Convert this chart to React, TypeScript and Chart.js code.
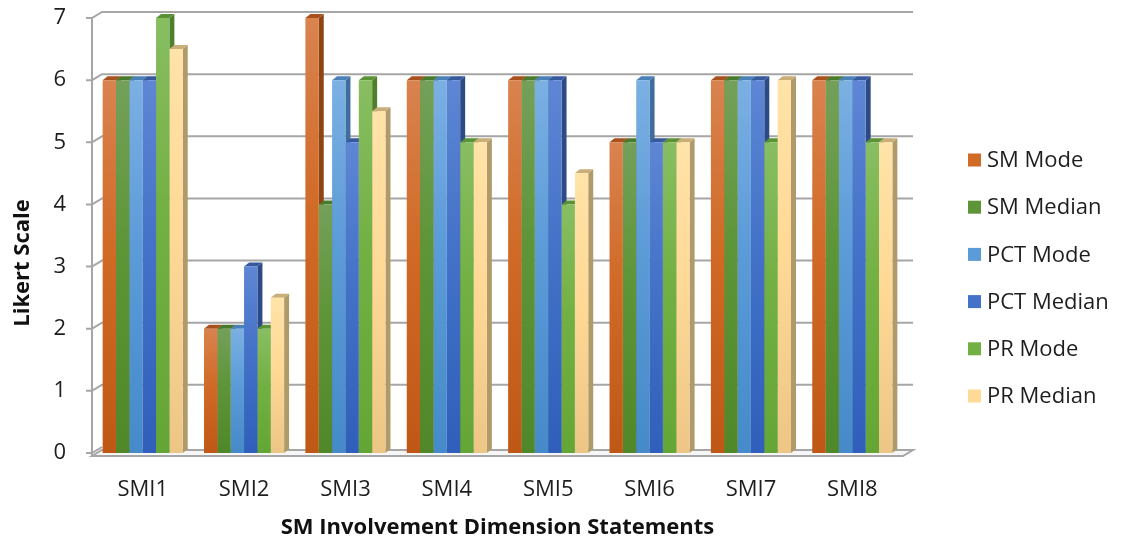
import React, { useEffect, useRef } from "react";
import { Chart, registerables } from "chart.js";

Chart.register(...registerables);

const categories = ["SMI1", "SMI2", "SMI3", "SMI4", "SMI5", "SMI6", "SMI7", "SMI8"];
const seriesNames = ["SM Mode", "SM Median", "PCT Mode", "PCT Median", "PR Mode", "PR Median"];
const smMode = [6, 2, 7, 6, 6, 5, 6, 6];
const smMedian = [6, 2, 4, 6, 6, 5, 6, 6];
const pctMode = [6, 2, 6, 6, 6, 6, 6, 6];
const pctMedian = [6, 3, 5, 6, 6, 5, 6, 6];
const prMode = [7, 2, 6, 5, 4, 5, 5, 5];
const prMedian = [6.5, 2.5, 5.5, 5, 4.5, 5, 6, 5];
const yTickValues = [0, 1, 2, 3, 4, 5, 6, 7];
const xTitle = "SM Involvement Dimension Statements";
const yTitle = "Likert Scale";

const seriesValues = [smMode, smMedian, pctMode, pctMedian, prMode, prMedian];

const palette = [
  { top: "#D9834F", mid: "#D06A26", bottom: "#C05815", side: "#8F4513", cap: "#A8511C" },
  { top: "#74A05A", mid: "#5E9538", bottom: "#4F8729", side: "#3A6322", cap: "#4A7A2C" },
  { top: "#7BB0E3", mid: "#5B9BD8", bottom: "#468AC9", side: "#3F6E9E", cap: "#4A80B8" },
  { top: "#5E86D4", mid: "#4472C8", bottom: "#2F5FBA", side: "#2C4A86", cap: "#36599E" },
  { top: "#88BE62", mid: "#72B043", bottom: "#64A635", side: "#4F7F2C", cap: "#5A9235" },
  { top: "#FFE3A8", mid: "#FFD996", bottom: "#EDC686", side: "#B09A6A", cap: "#C9AE78" },
];

const FONT = "'Open Sans', 'DejaVu Sans', sans-serif";
const FONT_SIZE = 22;
const WALL_DX = 10;
const WALL_DY = 6;
const BAR_DX = 5;
const BAR_DY = 4;

function barFill(i: number) {
  return (ctx: any) => {
    const chart = ctx.chart;
    const c = palette[i];
    const yScale = chart.scales && chart.scales.y;
    if (!chart.chartArea || !yScale || ctx.type !== "data") return c.mid;
    const top = yScale.getPixelForValue(ctx.raw);
    const bottom = yScale.getPixelForValue(0);
    if (!isFinite(top) || !isFinite(bottom) || top === bottom) return c.mid;
    const g = chart.ctx.createLinearGradient(0, top, 0, bottom);
    g.addColorStop(0, c.top);
    g.addColorStop(0.45, c.mid);
    g.addColorStop(1, c.bottom);
    return g;
  };
}

const threeDPlugin = {
  id: "threeD",
  beforeDatasetsDraw(chart: any) {
    const ctx = chart.ctx;
    const { left, right } = chart.chartArea;
    const y = chart.scales.y;
    const base = y.getPixelForValue(0);
    ctx.save();
    ctx.strokeStyle = "#A6A6A6";
    ctx.lineWidth = 2;
    yTickValues.forEach((v) => {
      const py = y.getPixelForValue(v);
      ctx.beginPath();
      ctx.moveTo(left - 6, py);
      ctx.lineTo(left, py);
      ctx.lineTo(left + WALL_DX, py - WALL_DY);
      if (v !== 0) ctx.lineTo(right + WALL_DX, py - WALL_DY);
      ctx.stroke();
    });
    ctx.beginPath();
    ctx.moveTo(left, y.getPixelForValue(7));
    ctx.lineTo(left, base + 3);
    ctx.stroke();
    ctx.fillStyle = "#F6F6F6";
    ctx.beginPath();
    ctx.moveTo(left, base + 3);
    ctx.lineTo(right, base + 3);
    ctx.lineTo(right + WALL_DX, base + 3 - WALL_DY);
    ctx.lineTo(left + WALL_DX, base + 3 - WALL_DY);
    ctx.closePath();
    ctx.fill();
    ctx.stroke();

    const metas = seriesNames.map((_, i) => chart.getDatasetMeta(i));
    metas.forEach((meta: any, i: number) => {
      meta.data.forEach((el: any) => {
        const p = el.getProps(["x", "y", "base", "width"], true);
        const xr = p.x + p.width / 2;
        ctx.fillStyle = palette[i].side;
        ctx.beginPath();
        ctx.moveTo(xr, p.y);
        ctx.lineTo(xr + BAR_DX, p.y - BAR_DY);
        ctx.lineTo(xr + BAR_DX, p.base - BAR_DY);
        ctx.lineTo(xr, p.base);
        ctx.closePath();
        ctx.fill();
      });
    });
    metas.forEach((meta: any, i: number) => {
      meta.data.forEach((el: any) => {
        const p = el.getProps(["x", "y", "base", "width"], true);
        const xl = p.x - p.width / 2;
        const xr = p.x + p.width / 2;
        ctx.fillStyle = palette[i].cap;
        ctx.beginPath();
        ctx.moveTo(xl, p.y);
        ctx.lineTo(xl + BAR_DX, p.y - BAR_DY);
        ctx.lineTo(xr + BAR_DX, p.y - BAR_DY);
        ctx.lineTo(xr, p.y);
        ctx.closePath();
        ctx.fill();
      });
    });
    ctx.restore();
  },
  afterDraw(chart: any) {
    const ctx = chart.ctx;
    ctx.save();
    // legend
    const x0 = 968;
    const y0 = 160;
    const step = 47.2;
    ctx.font = `${FONT_SIZE}px ${FONT}`;
    ctx.textBaseline = "middle";
    ctx.textAlign = "left";
    seriesNames.forEach((name, i) => {
      const cy = y0 + i * step;
      ctx.fillStyle = palette[i].mid;
      ctx.fillRect(x0, cy - 6.5, 13, 13);
      ctx.fillStyle = "#1E1E1E";
      ctx.fillText(name, x0 + 19, cy + 1);
    });
    // y axis title
    ctx.translate(23, 263);
    ctx.rotate(-Math.PI / 2);
    ctx.font = `bold ${FONT_SIZE}px ${FONT}`;
    ctx.textAlign = "center";
    ctx.fillStyle = "#111111";
    ctx.fillText(yTitle, 0, 0);
    ctx.restore();
  },
};

export default function App() {
  const canvasRef = useRef<HTMLCanvasElement | null>(null);

  useEffect(() => {
    document.body.style.margin = "0";
    const canvas = canvasRef.current;
    if (!canvas) return;
    const chart = new Chart(canvas, {
      type: "bar",
      data: {
        labels: categories,
        datasets: seriesNames.map((name, i) => ({
          label: name,
          data: seriesValues[i],
          backgroundColor: barFill(i),
          borderWidth: 0,
          categoryPercentage: 0.79,
          barPercentage: 1,
        })),
      },
      options: {
        animation: false,
        responsive: true,
        maintainAspectRatio: false,
        layout: { padding: { top: 18, right: 221, bottom: 0, left: 0 } },
        plugins: {
          legend: { display: false },
          tooltip: { enabled: false },
        },
        scales: {
          x: {
            grid: { display: false, drawTicks: false },
            border: { display: false },
            afterFit: (scale: any) => {
              scale.height = 90;
            },
            ticks: { font: { family: FONT, size: FONT_SIZE }, color: "#1E1E1E", padding: 24, maxRotation: 0 },
            title: {
              display: true,
              text: xTitle,
              font: { family: FONT, size: FONT_SIZE, weight: "bold" },
              color: "#111111",
              padding: { top: 10, bottom: 2 },
            },
          },
          y: {
            min: 0,
            max: 7,
            grid: { display: false, drawTicks: false },
            border: { display: false },
            afterFit: (scale: any) => {
              scale.width = 92;
              scale.paddingTop = 10;
              scale.paddingBottom = 0;
            },
            ticks: {
              stepSize: 1,
              font: { family: FONT, size: FONT_SIZE },
              color: "#1E1E1E",
              padding: 26,
            },
            title: { display: false, text: yTitle },
          },
        },
      },
      plugins: [threeDPlugin],
    });
    return () => chart.destroy();
  }, []);

  return (
    <div style={{ position: "absolute", left: 0, top: 0, width: 1124, height: 543, background: "#ffffff" }}>
      <canvas ref={canvasRef} />
    </div>
  );
}
